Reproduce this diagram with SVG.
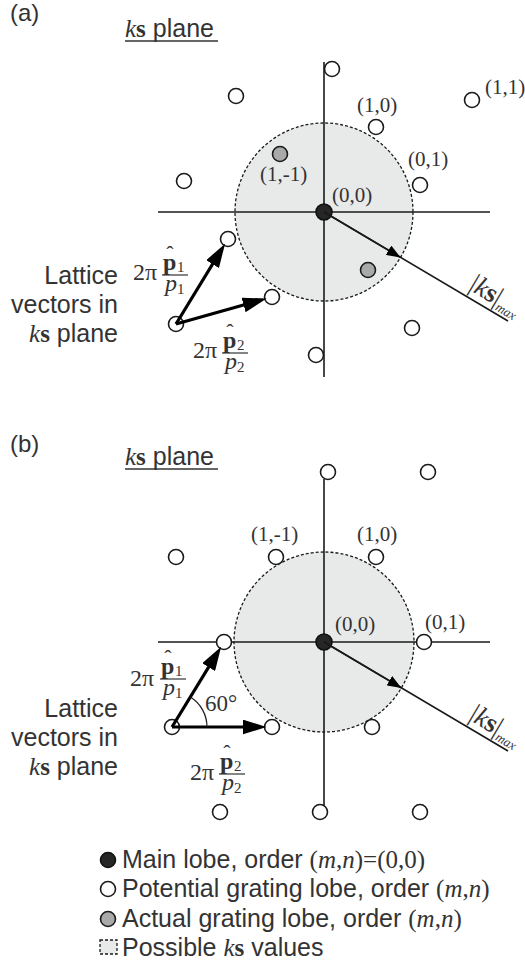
<svg xmlns="http://www.w3.org/2000/svg" width="525" height="971" viewBox="0 0 525 971">
<style>
.lp{fill:#fff;stroke:#1a1a1a;stroke-width:1.6}
.gl{fill:#a9a9a9;stroke:#1a1a1a;stroke-width:1.6}
.ml{fill:#262626;stroke:#111;stroke-width:1.6}
.ax{stroke:#1a1a1a;stroke-width:1.6;fill:none}
.zone{fill:#e8eaea;stroke:#1a1a1a;stroke-width:1.3;stroke-dasharray:3 2}
.vec{stroke:#000;stroke-width:3.2;fill:none;marker-end:url(#ah)}
.kv{stroke:#1a1a1a;stroke-width:1.6;fill:none;marker-end:url(#ah2)}
.sans{font-family:"Liberation Sans",Arial,sans-serif;fill:#333}
.serif{font-family:"Liberation Serif","Times New Roman",serif;fill:#333}
.lbl{font-family:"Liberation Serif","Times New Roman",serif;font-size:21px;fill:#333}
.it{font-family:"Liberation Serif","Times New Roman",serif;font-style:italic}
.bd{font-family:"Liberation Serif","Times New Roman",serif;font-weight:bold}
</style>
<defs>
<marker id="ah" markerWidth="24" markerHeight="15" refX="12" refY="7.5" orient="auto" markerUnits="userSpaceOnUse"><path d="M0,0 L24,7.5 L0,15 z" fill="#000"/></marker>
<marker id="ah2" markerWidth="14" markerHeight="11" refX="14" refY="5.5" orient="auto" markerUnits="userSpaceOnUse"><path d="M0,0 L14,5.5 L0,11 z" fill="#000"/></marker>
</defs>

<!-- Panel (a) -->
<g id="panel-a-titles">
<text class="sans" x="10" y="21" font-size="24">(a)</text>
<text class="sans" x="125" y="37" font-size="25"><tspan class="it">k</tspan><tspan class="bd">s</tspan> plane</text>
<line x1="125" y1="41" x2="218" y2="41" stroke="#333" stroke-width="1.4"/>
</g>
<g id="a-zone"><circle class="zone" cx="324" cy="212" r="89"/></g>
<g id="a-connectors">
<line class="ax" x1="158" y1="212" x2="490" y2="212"/>
<line class="ax" x1="324" y1="62" x2="324" y2="377"/>
</g>
<g id="a-lattice">
<circle class="lp" cx="376" cy="127" r="7.5"/>
<circle class="lp" cx="420" cy="185" r="7.5"/>
<circle class="lp" cx="472" cy="100" r="7.5"/>
<circle class="lp" cx="332" cy="69" r="7.5"/>
<circle class="lp" cx="236" cy="96" r="7.5"/>
<circle class="lp" cx="184" cy="181" r="7.5"/>
<circle class="lp" cx="228" cy="239" r="7.5"/>
<circle class="lp" cx="272" cy="297" r="7.5"/>
<circle class="lp" cx="176" cy="324" r="7.5"/>
<circle class="lp" cx="316" cy="355" r="7.5"/>
<circle class="lp" cx="412" cy="328" r="7.5"/>
<circle class="gl" cx="280" cy="154" r="7.5"/>
<circle class="gl" cx="368" cy="270" r="7.5"/>
<circle class="ml" cx="324" cy="212" r="8"/>
</g>
<g id="a-vectors">
<line class="ax" x1="324" y1="212" x2="508" y2="321"/>
<path class="kv" d="M324,212 L400.5,257.4"/>
<line class="vec" x1="176" y1="324" x2="218.8" y2="253.9"/>
<line class="vec" x1="176" y1="324" x2="255.1" y2="301.7"/>
</g>
<g id="a-labels">
<text class="lbl" x="357" y="112">(1,0)</text>
<text class="lbl" x="485" y="94">(1,1)</text>
<text class="lbl" x="408" y="166">(0,1)</text>
<text class="lbl" x="260" y="181">(1,-1)</text>
<text class="lbl" x="332" y="202">(0,0)</text>
<g transform="translate(324,212) rotate(30.64)">
<text class="serif" x="163" y="-7" font-size="27">|<tspan class="it">k</tspan><tspan class="bd">s</tspan>|<tspan class="it" font-size="13" dy="4">max</tspan></text>
</g>
</g>
<g id="a-formula1" class="serif">
<text x="133" y="280" font-size="24">2π</text>
<line x1="162" y1="275" x2="188" y2="275" stroke="#333" stroke-width="1.2"/>
<text x="170" y="261" font-size="22" text-anchor="middle">ˆ</text>
<text class="bd" x="163" y="270" font-size="24">p</text>
<text x="177" y="272" font-size="15">1</text>
<text class="it" x="165" y="291" font-size="24">p</text>
<text x="177" y="294" font-size="15">1</text>
</g>
<g id="a-formula2" class="serif">
<text x="193" y="358" font-size="24">2π</text>
<line x1="222" y1="353" x2="248" y2="353" stroke="#333" stroke-width="1.2"/>
<text x="230" y="339" font-size="22" text-anchor="middle">ˆ</text>
<text class="bd" x="223" y="348" font-size="24">p</text>
<text x="237" y="350" font-size="15">2</text>
<text class="it" x="225" y="369" font-size="24">p</text>
<text x="237" y="372" font-size="15">2</text>
</g>
<g id="a-lattice-text" class="sans" font-size="25" text-anchor="end">
<text x="118" y="284">Lattice</text>
<text x="118" y="313">vectors in</text>
<text x="118" y="342"><tspan class="it">k</tspan><tspan class="bd">s</tspan> plane</text>
</g>

<!-- Panel (b) -->
<g id="panel-b-titles">
<text class="sans" x="10" y="452" font-size="24">(b)</text>
<text class="sans" x="125" y="465" font-size="25"><tspan class="it">k</tspan><tspan class="bd">s</tspan> plane</text>
<line x1="125" y1="469" x2="218" y2="469" stroke="#333" stroke-width="1.4"/>
</g>
<g id="b-zone"><circle class="zone" cx="324" cy="642" r="90"/></g>
<g id="b-connectors">
<line class="ax" x1="158" y1="642" x2="490" y2="642"/>
<line class="ax" x1="324" y1="479" x2="324" y2="806"/>
</g>
<g id="b-lattice">
<circle class="lp" cx="376" cy="557" r="7.5"/>
<circle class="lp" cx="276" cy="557" r="7.5"/>
<circle class="lp" cx="424" cy="642" r="7.5"/>
<circle class="lp" cx="328" cy="472" r="7.5"/>
<circle class="lp" cx="428" cy="472" r="7.5"/>
<circle class="lp" cx="176" cy="557" r="7.5"/>
<circle class="lp" cx="224" cy="642" r="7.5"/>
<circle class="lp" cx="272" cy="727" r="7.5"/>
<circle class="lp" cx="372" cy="727" r="7.5"/>
<circle class="lp" cx="172" cy="727" r="7.5"/>
<circle class="lp" cx="220" cy="812" r="7.5"/>
<circle class="lp" cx="320" cy="812" r="7.5"/>
<circle class="lp" cx="420" cy="812" r="7.5"/>
<circle class="ml" cx="324" cy="642" r="8"/>
</g>
<g id="b-vectors">
<line class="ax" x1="324" y1="642" x2="508" y2="751"/>
<path class="kv" d="M324,642 L401.4,687.9"/>
<line class="vec" x1="172" y1="727" x2="214.9" y2="656.9"/>
<line class="vec" x1="172" y1="727" x2="254.5" y2="727"/>
<path d="M207,727 A35,35 0 0 0 190.3,697.1" fill="none" stroke="#1a1a1a" stroke-width="1.2"/>
</g>
<g id="b-labels">
<text class="lbl" x="251" y="541">(1,-1)</text>
<text class="lbl" x="357" y="541">(1,0)</text>
<text class="lbl" x="425" y="629">(0,1)</text>
<text class="lbl" x="335" y="631">(0,0)</text>
<text class="serif" x="205" y="711" font-size="23">60°</text>
<g transform="translate(324,642) rotate(30.64)">
<text class="serif" x="163" y="-7" font-size="27">|<tspan class="it">k</tspan><tspan class="bd">s</tspan>|<tspan class="it" font-size="13" dy="4">max</tspan></text>
</g>
</g>
<g id="b-formula1" class="serif">
<text x="130" y="686" font-size="24">2π</text>
<line x1="160" y1="679" x2="186" y2="679" stroke="#333" stroke-width="1.2"/>
<text x="168" y="665" font-size="22" text-anchor="middle">ˆ</text>
<text class="bd" x="161" y="674" font-size="24">p</text>
<text x="175" y="676" font-size="15">1</text>
<text class="it" x="163" y="695" font-size="24">p</text>
<text x="175" y="698" font-size="15">1</text>
</g>
<g id="b-formula2" class="serif">
<text x="190" y="780" font-size="24">2π</text>
<line x1="219" y1="774" x2="245" y2="774" stroke="#333" stroke-width="1.2"/>
<text x="227" y="760" font-size="22" text-anchor="middle">ˆ</text>
<text class="bd" x="220" y="769" font-size="24">p</text>
<text x="234" y="771" font-size="15">2</text>
<text class="it" x="222" y="790" font-size="24">p</text>
<text x="234" y="793" font-size="15">2</text>
</g>
<g id="b-lattice-text" class="sans" font-size="25" text-anchor="end">
<text x="118" y="717">Lattice</text>
<text x="118" y="746">vectors in</text>
<text x="118" y="775"><tspan class="it">k</tspan><tspan class="bd">s</tspan> plane</text>
</g>

<!-- Legend -->
<g id="legend">
<circle class="ml" cx="108" cy="860" r="7.5"/>
<text class="sans" x="122" y="868" font-size="25">Main lobe, order <tspan class="serif">(<tspan class="it">m</tspan>,<tspan class="it">n</tspan>)=(0,0)</tspan></text>
<circle class="lp" cx="108" cy="889" r="7.5"/>
<text class="sans" x="122" y="897" font-size="25">Potential grating lobe, order <tspan class="serif">(<tspan class="it">m</tspan>,<tspan class="it">n</tspan>)</tspan></text>
<circle class="gl" cx="108" cy="919" r="7.5"/>
<text class="sans" x="122" y="927" font-size="25">Actual grating lobe, order <tspan class="serif">(<tspan class="it">m</tspan>,<tspan class="it">n</tspan>)</tspan></text>
<rect class="zone" x="100" y="940" width="17" height="14"/>
<text class="sans" x="122" y="956" font-size="25">Possible <tspan class="it">k</tspan><tspan class="bd">s</tspan> values</text>
</g>
</svg>
